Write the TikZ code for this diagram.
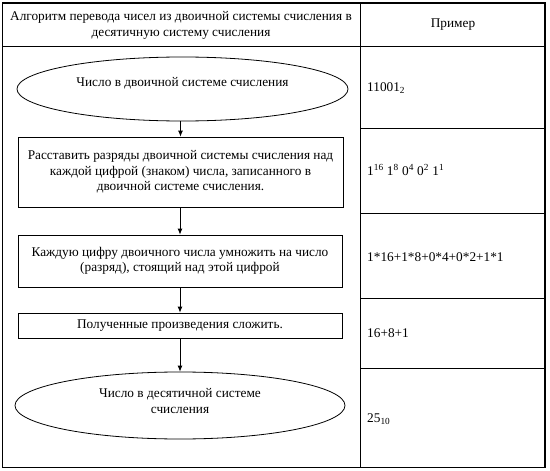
\documentclass[tikz,border=0pt]{standalone}
\usepackage{fontspec}
\setmainfont{Liberation Serif}
\usetikzlibrary{shapes.geometric,arrows.meta}
\tikzset{
  txt/.style={font=\fontsize{13.3}{15.5}\selectfont, inner sep=0pt},
  stepbox/.style={txt, draw, line width=0.8pt, align=center, minimum width=325pt},
  term/.style={txt, draw, ellipse, line width=0.8pt, minimum width=331pt, inner sep=0pt},
  arr/.style={line width=0.8pt, -{Latex[length=6pt,width=5pt]}},
  grid/.style={line width=0.8pt},
  cell/.style={txt, anchor=west}
}
\begin{document}
\begin{tikzpicture}[x=1pt,y=-1pt]
\useasboundingbox (0,0) rectangle (550,471);
% table
\draw[line width=1.2pt] (2.5,3) rectangle (545,467.5);
\draw[grid] (360,3) -- (360,467.5);
\draw[grid] (2.5,46) -- (545,46);
\foreach \yy in {128,213,298,368} \draw[grid] (360,\yy) -- (545,\yy);
% header
\node[txt, align=center] (h1) at (181,25.5) {Алгоритм перевода чисел из двоичной системы счисления в\\десятичную систему счисления};
\node[txt] (h2) at (453,25) {Пример};
% flow
\node[term, minimum height=64pt, label={[txt, yshift=6pt]center:Число в двоичной системе счисления}] (e1) at (182.5,89) {};
\node[stepbox, minimum height=70pt] (b1) at (180.5,172) {Расставить разряды двоичной системы счисления над\\каждой цифрой (знаком) числа, записанного в\\двоичной системе счисления.};
\node[stepbox, minimum height=52pt, minimum width=324pt] (b2) at (180,261) {Каждую цифру двоичного числа умножить на число\\(разряд), стоящий над этой цифрой};
\node[stepbox, minimum height=25pt, minimum width=324pt] (b3) at (180,325.5) {Полученные произведения сложить.};
\node[term, minimum height=67pt, minimum width=330pt, label={[txt, align=center, yshift=4.5pt]center:Число в десятичной системе\\счисления}] (e2) at (180,405.5) {};
\draw[arr] (e1.south -| b1.north) -- (b1.north);
\draw[arr] (b1.south -| b2.north) -- (b2.north);
\draw[arr] (b2.south) -- (b3.north);
\draw[arr] (b3.south) -- (e2.north);
% examples
\node[cell] (r1) at (367,88) {11001\textsubscript{2}};
\node[cell] (r2) at (367,170) {1\textsuperscript{16} 1\textsuperscript{8} 0\textsuperscript{4} 0\textsuperscript{2} 1\textsuperscript{1}};
\node[cell] (r3) at (367,257) {1*16+1*8+0*4+0*2+1*1};
\node[cell] (r4) at (367,333) {16+8+1};
\node[cell] (r5) at (367,419) {25\textsubscript{10}};
\end{tikzpicture}
\end{document}
